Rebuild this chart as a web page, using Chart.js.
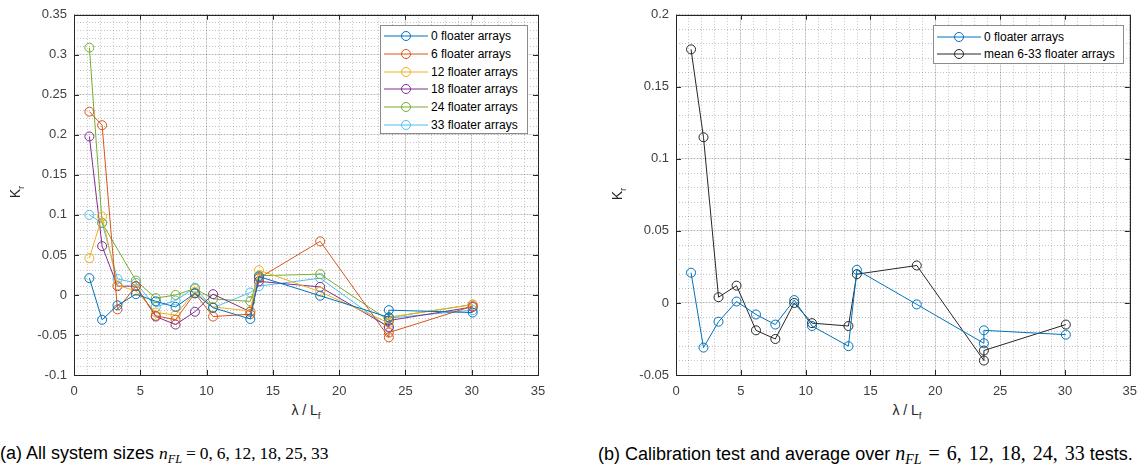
<!DOCTYPE html>
<html>
<head>
<meta charset="utf-8">
<script src="https://cdn.jsdelivr.net/npm/chart.js@4.4.1/dist/chart.umd.min.js"></script>
<style>
body{margin:0;width:1146px;height:466px;background:#fff;position:relative;overflow:hidden;font-family:"Liberation Sans",Arial,sans-serif;color:#262626}
canvas{position:absolute;top:0}
#cA{left:0}
#cB{left:573px}
.ylab{position:absolute;font-size:14px;transform:translate(-50%,-50%) rotate(-90deg);white-space:nowrap}
.xlab{position:absolute;font-size:14px;transform:translate(-50%,-50%);white-space:nowrap}
sub{font-size:70%;vertical-align:-4px;line-height:0}
.cap{position:absolute;top:443px;font-size:18px;line-height:20px;color:#000;white-space:nowrap}
.m{font-family:"Liberation Serif","Times New Roman",serif;font-size:17.5px;word-spacing:-0.5px}
.m2{font-size:20px;word-spacing:2px}
.leg{position:absolute;background:#fff;border:1px solid #8c8c8c;font-size:12px;color:#000;box-sizing:border-box}
.leg .row{position:absolute;left:0;height:16px;display:flex;align-items:center;white-space:nowrap}
.leg svg{margin-right:3px}
</style>
</head>
<body>
<canvas id="cA" width="573" height="400"></canvas>
<canvas id="cB" width="573" height="400"></canvas>
<div class="ylab" style="left:15px;top:192px">K<sub>r</sub></div>
<div class="ylab" style="left:617px;top:194px">K<sub>r</sub></div>
<div class="xlab" style="left:306px;top:410px">λ / L<sub>f</sub></div>
<div class="xlab" style="left:907px;top:410px">λ / L<sub>f</sub></div>
<div class="cap" style="left:0">(a) All system sizes <span class="m"><i>n<sub>FL</sub></i> = 0, 6, 12, 18, 25, 33</span></div>
<div class="cap" style="left:598px">(b) Calibration test and average over <span class="m m2"><i>n<sub>FL</sub></i> = 6, 12, 18, 24, 33</span> tests.</div>
<div class="leg" id="legA" style="left:380px;top:25px;width:148px;height:109px"></div>
<div class="leg" id="legB" style="left:933px;top:25px;width:191px;height:39px"></div>
<script>
// wavelength over floater length (shared by every series)
const lam = [1.16, 2.12, 3.28, 4.67, 6.17, 7.66, 9.12, 10.49, 13.3, 13.95, 18.57, 23.75, 23.75, 30.07];

// K_r per system size
const k0  = [0.021, -0.031, -0.013, 0.001, -0.008, -0.015, 0.002, -0.016, -0.030, 0.023, -0.001, -0.028, -0.019, -0.022];
const k6  = [0.229, 0.212, -0.018, 0.011, -0.026, -0.031, 0.002, -0.027, -0.024, 0.021, 0.067, -0.053, -0.047, -0.014];
const k12 = [0.046, 0.098, 0.012, 0.005, -0.022, -0.025, 0.004, -0.015, -0.020, 0.031, 0.004, -0.035, -0.028, -0.012];
const k18 = [0.198, 0.061, 0.011, 0.011, -0.027, -0.037, -0.021, 0.001, -0.021, 0.017, 0.010, -0.040, -0.032, -0.015];
const k24 = [0.309, 0.090, null, 0.018, -0.004, 0.000, 0.008, -0.005, -0.008, 0.024, 0.026, -0.032, -0.028, -0.012];
const k33 = [0.100, 0.090, 0.020, 0.015, -0.015, -0.007, 0.009, -0.016, 0.003, 0.011, 0.021, -0.041, -0.029, -0.019];
const kMean = [0.176, 0.115, 0.004, 0.012, -0.019, -0.025, 0.000, -0.014, -0.016, 0.020, 0.026, -0.040, -0.033, -0.015];

const namesA = ['0 floater arrays', '6 floater arrays', '12 floater arrays', '18 floater arrays', '24 floater arrays', '33 floater arrays'];
const namesB = ['0 floater arrays', 'mean 6-33 floater arrays'];

const colsA = ['#0072BD', '#D95319', '#EDB120', '#7E2F8E', '#77AC30', '#4DBEEE'];
const colsB = ['#0072BD', '#262626'];

const tickCol = '#404040';
const majorGrid = 'rgba(38,38,38,0.13)';
const minorGrid = 'rgba(38,38,38,0.28)';
const font = {family: '"Liberation Sans", Arial, sans-serif', size: 13};

function ds(label, ys, color) {
  return {
    label, data: lam.map((x, i) => ({x, y: ys[i]})),
    borderColor: color, backgroundColor: 'rgba(0,0,0,0)',
    pointBorderColor: color, pointBackgroundColor: 'rgba(0,0,0,0)',
    pointRadius: 4.5, pointBorderWidth: 1, borderWidth: 1, spanGaps: true, tension: 0
  };
}

// axes frame + inward ticks like matlab
const boxPlugin = {
  id: 'box',
  afterDraw(c) {
    const {ctx, chartArea: a, scales} = c;
    const ln = (x1, y1, x2, y2) => { ctx.beginPath(); ctx.moveTo(x1, y1); ctx.lineTo(x2, y2); ctx.stroke(); };
    ctx.save();
    ctx.strokeStyle = '#262626'; ctx.lineWidth = 1;
    ctx.strokeRect(Math.round(a.left) + 0.5, Math.round(a.top) + 0.5, Math.round(a.right - a.left), Math.round(a.bottom - a.top));
    scales.x.ticks.forEach(t => {
      const p = Math.round(scales.x.getPixelForValue(t.value)) + 0.5;
      ln(p, a.bottom, p, a.bottom - 5); ln(p, a.top, p, a.top + 5);
    });
    scales.y.ticks.forEach(t => {
      const p = Math.round(scales.y.getPixelForValue(t.value)) + 0.5;
      ln(a.left, p, a.left + 5, p); ln(a.right, p, a.right - 5, p);
    });
    ctx.restore();
  }
};

function opts(ymin, ymax, ystep, yw, padR) {
  return {
    responsive: false, animation: false, devicePixelRatio: 1,
    layout: {padding: {top: 14, right: padR, left: 0, bottom: 0}},
    plugins: {legend: {display: false}, tooltip: {enabled: false}},
    scales: {
      xm: {type: 'linear', min: 0, max: 35, position: 'bottom',
        ticks: {display: false, stepSize: 1}, grid: {color: minorGrid, drawTicks: false},
        border: {display: false, dash: [1, 2]}, afterFit: s => { s.height = 0; }},
      x: {type: 'linear', min: 0, max: 35, position: 'bottom',
        ticks: {stepSize: 5, color: tickCol, font, padding: 9, maxRotation: 0},
        grid: {color: majorGrid, drawTicks: false}, border: {display: false},
        afterFit: s => { s.height = 25; }},
      ym: {type: 'linear', min: ymin, max: ymax, position: 'left',
        ticks: {display: false, stepSize: 0.01}, grid: {color: minorGrid, drawTicks: false},
        border: {display: false, dash: [1, 2]}, afterFit: s => { s.width = 0; }},
      y: {type: 'linear', min: ymin, max: ymax, position: 'left',
        ticks: {stepSize: ystep, color: tickCol, font, padding: 7, callback: v => String(+v.toFixed(2))},
        grid: {color: majorGrid, drawTicks: false}, border: {display: false},
        afterFit: s => { s.width = yw; }}
    }
  };
}

const seriesA = [k0, k6, k12, k18, k24, k33];
new Chart(document.getElementById('cA'), {
  type: 'line',
  data: {datasets: seriesA.map((s, i) => ds(namesA[i], s, colsA[i]))},
  options: opts(-0.1, 0.35, 0.05, 74, 35),
  plugins: [boxPlugin]
});

const seriesB = [k0, kMean];
new Chart(document.getElementById('cB'), {
  type: 'line',
  data: {datasets: seriesB.map((s, i) => ds(namesB[i], s, colsB[i]))},
  options: opts(-0.05, 0.2, 0.05, 103, 8),
  plugins: [boxPlugin]
});

// legends inside the axes
function legend(id, names, cols, firstY, gap) {
  const el = document.getElementById(id);
  el.innerHTML = names.map((n, i) =>
    `<div class="row" style="top:${firstY + i * gap - 8}px;left:3px">` +
    `<svg width="44" height="12"><line x1="0" y1="6" x2="44" y2="6" stroke="${cols[i]}" stroke-width="1"/>` +
    `<circle cx="22" cy="6" r="4.5" fill="none" stroke="${cols[i]}" stroke-width="1"/></svg>${n}</div>`
  ).join('');
}
legend('legA', namesA, colsA, 10, 17.8);
legend('legB', namesB, colsB, 11, 16.7);
</script>
</body>
</html>
